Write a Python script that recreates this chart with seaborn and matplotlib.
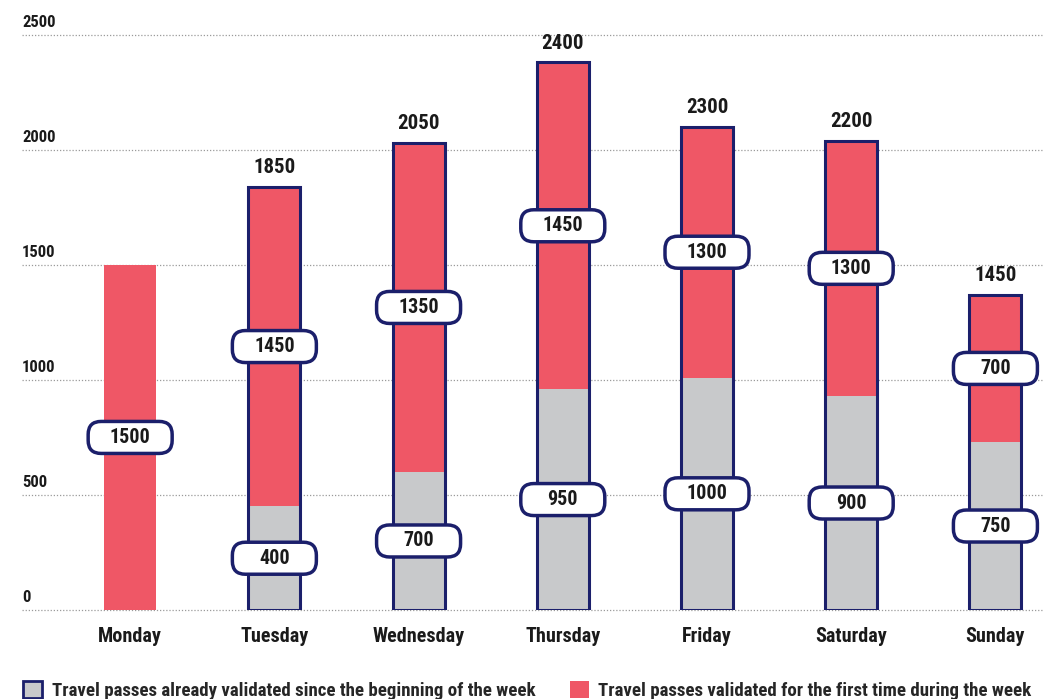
import matplotlib
matplotlib.use('Agg')
import matplotlib.pyplot as plt
from matplotlib.patches import FancyBboxPatch, Patch
import seaborn as sns
import numpy as np

# data
days = ['Monday', 'Tuesday', 'Wednesday', 'Thursday', 'Friday', 'Saturday', 'Sunday']
# drawn bar heights
already = [0, 450, 600, 960, 1010, 930, 730]
totals = [1500, 1840, 2030, 2380, 2100, 2040, 1370]
# printed labels
already_labels = ['', '400', '700', '950', '1000', '900', '750']
first_labels = ['1500', '1450', '1350', '1450', '1300', '1300', '700']
total_labels = ['', '1850', '2050', '2400', '2300', '2200', '1450']

RED = '#EF5766'
GREY = '#C8C9CB'
NAVY = '#1B1F6B'

sns.set_theme(style='white')
plt.rcParams['font.family'] = ['Roboto Condensed', 'Open Sans Condensed', 'DejaVu Sans']
plt.rcParams['font.stretch'] = 'condensed'
plt.rcParams['font.weight'] = 'bold'

W, H = 1043, 699
fig = plt.figure(figsize=(W / 100, H / 100), dpi=100)
ax_l, ax_r = 22, 1043
ax_b, ax_t = 610, 21
ax = fig.add_axes([ax_l / W, (H - ax_b) / H, (ax_r - ax_l) / W, (ax_b - ax_t) / H])

xlim = (-0.75, 6.33)
ylim = (0, 2560)

sns.barplot(x=days, y=totals, color=RED, width=0.36, saturation=1, ax=ax, linewidth=0)
sns.barplot(x=days, y=already, color=GREY, width=0.36, saturation=1, ax=ax, linewidth=0)
sns.barplot(x=days, y=totals, fill=False, width=0.36, ax=ax,
            edgecolor=NAVY, linewidth=2.2)
# Monday has no outline
n = len(days)
ax.patches[2 * n].set_visible(False)

ax.set_xlim(*xlim)
ax.set_ylim(*ylim)

# gridlines + tick labels above the lines
for v in range(0, 2501, 500):
    ax.axhline(v, color='#9a9a9a', lw=0.9, ls=(0, (1, 1.5)), zorder=0, clip_on=False)
    ax.text(0, v + 22, str(v), transform=ax.get_yaxis_transform(),
            ha='left', va='bottom', fontsize=12, color='#1a1a1a', fontweight='bold')

ax.set_yticks([])
ax.set_xlabel('')
ax.set_ylabel('')
ax.tick_params(axis='x', length=0, pad=12, labelsize=14.5, labelcolor='#1a1a1a')
for lab in ax.get_xticklabels():
    lab.set_fontweight('bold')
for s in ax.spines.values():
    s.set_visible(False)

# pill-shaped labels with fixed pixel size
px_x = (xlim[1] - xlim[0]) / (ax_r - ax_l)
px_y = (ylim[1] - ylim[0]) / (ax_b - ax_t)
box_w, box_h = 84 * px_x, 32 * px_y
aspect = px_y / px_x


def pill(x, y, txt):
    p = FancyBboxPatch((x - box_w / 2, y - box_h / 2), box_w, box_h,
                       boxstyle='round,pad=0,rounding_size=%f' % (13 * px_x),
                       mutation_aspect=aspect, fc='white', ec=NAVY, lw=2.5, zorder=5)
    ax.add_patch(p)
    ax.text(x, y, txt, ha='center', va='center', fontsize=14.5, fontweight='bold',
            color='#1a1a1a', zorder=6)


for i in range(n):
    a, t = already[i], totals[i]
    if already_labels[i]:
        pill(i, a / 2, already_labels[i])
    pill(i, (a + t) / 2, first_labels[i])
    if total_labels[i]:
        ax.text(i, t + 19 * px_y, total_labels[i], ha='center', va='center',
                fontsize=15, fontweight='bold', color='#1a1a1a')

handles = [Patch(facecolor=GREY, edgecolor=NAVY, linewidth=2),
           Patch(facecolor=RED, edgecolor=RED, linewidth=0)]
labels = ['Travel passes already validated since the beginning of the week',
          'Travel passes validated for the first time during the week']
fig.legend(handles, labels, loc='lower left', bbox_to_anchor=(0.006, -0.026),
           ncol=2, frameon=False, handlelength=1.0, handleheight=1.0,
           handletextpad=0.5, columnspacing=1.85, prop={'weight': 'bold', 'size': 13.6})

fig.savefig('out.png', dpi=100)
